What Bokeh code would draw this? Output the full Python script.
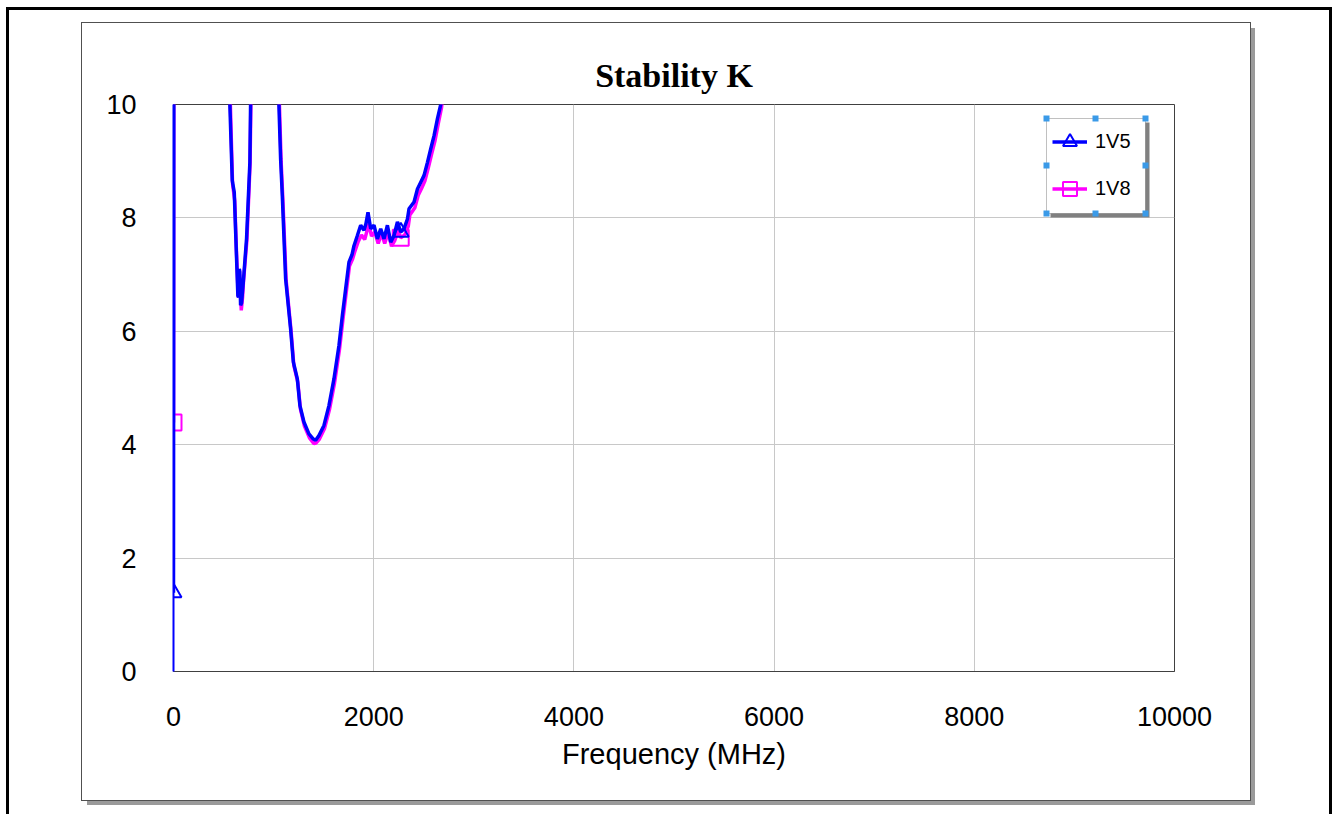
from bokeh.plotting import figure
from bokeh.layouts import column
from bokeh.models import (BoxAnnotation, Legend, LegendItem, FixedTicker, Range1d)
from bokeh.embed import file_html
from bokeh.resources import INLINE

# ---------------- data ----------------
freq_1v5 = [0, 10, 555, 563, 587, 607, 623, 643, 650, 657, 663, 670, 680, 697, 730, 763, 770, 778,
            1045, 1053, 1070, 1087, 1120, 1170, 1197, 1237, 1263, 1303, 1353, 1397, 1420, 1453, 1503,
            1553, 1603, 1653, 1687, 1720, 1753, 1783, 1803, 1837, 1870, 1903, 1923, 1943, 1970, 2003,
            2037, 2070, 2103, 2137, 2170, 2203, 2237, 2270, 2303, 2337, 2353, 2403, 2437, 2470, 2503,
            2537, 2570, 2603, 2637, 2670, 2700]
k_1v5 = [1.39, 30.0, 10.6, 10.0, 8.66, 8.45, 7.64, 6.63, 6.60, 7.10, 7.05, 6.46, 6.50, 6.86, 7.64, 8.98, 10.0, 10.6,
         10.6, 10.0, 9.04, 8.39, 6.93, 6.04, 5.46, 5.16, 4.69, 4.40, 4.19, 4.10, 4.08, 4.16, 4.34,
         4.69, 5.16, 5.75, 6.28, 6.75, 7.22, 7.35, 7.51, 7.69, 7.87, 7.78, 7.90, 8.10, 7.81, 7.87,
         7.63, 7.81, 7.63, 7.87, 7.57, 7.69, 7.93, 7.75, 7.81, 7.98, 8.16, 8.28, 8.51, 8.63, 8.75,
         8.98, 9.22, 9.45, 9.75, 10.0, 10.4]

freq_1v8 = [0, 10, 560, 568, 590, 612, 627, 647, 660, 677, 690, 700, 733, 765, 773, 781,
            1050, 1058, 1075, 1092, 1125, 1175, 1202, 1242, 1268, 1308, 1358, 1403, 1425, 1458, 1508,
            1558, 1608, 1658, 1692, 1725, 1758, 1790, 1810, 1845, 1878, 1910, 1930, 1950, 1978, 2010,
            2045, 2078, 2110, 2145, 2178, 2210, 2245, 2270, 2310, 2345, 2361, 2411, 2445, 2478, 2511,
            2545, 2578, 2611, 2645, 2678, 2705]
k_1v8 = [4.39, 30.0, 10.6, 10.0, 8.60, 8.30, 7.50, 6.60, 7.00, 6.37, 6.60, 6.90, 7.60, 8.95, 10.0, 10.6,
         10.6, 10.0, 9.00, 8.35, 6.90, 6.00, 5.40, 5.10, 4.63, 4.33, 4.12, 4.02, 4.03, 4.10, 4.28,
         4.62, 5.08, 5.68, 6.20, 6.68, 7.15, 7.28, 7.40, 7.58, 7.70, 7.62, 7.75, 7.90, 7.68, 7.75,
         7.55, 7.72, 7.55, 7.75, 7.50, 7.60, 7.78, 7.65, 7.70, 7.85, 8.05, 8.18, 8.40, 8.52, 8.65,
         8.88, 9.12, 9.35, 9.66, 9.95, 10.4]

marker_freq = [0, 2270]
marker_1v5 = [1.39, 7.75]
marker_1v8 = [4.39, 7.65]

x_ticks = [0, 2000, 4000, 6000, 8000, 10000]
y_ticks = [0, 2, 4, 6, 8, 10]

series_names = ["1V5", "1V8"]

BLUE = "#0000ff"
PINK = "#ff00ff"

# ---------------- figure (this is the grey-bordered panel) ----------------
PX, PY = 82, 23          # page position of the panel
W, H = 1168, 777
p = figure(width=W, height=H, output_backend="svg", toolbar_location=None,
           x_range=Range1d(0, 10000), y_range=Range1d(0, 10),
           min_border_left=91, min_border_right=76, min_border_top=81, min_border_bottom=129,
           title="Stability K", margin=(13, 0, 0, 73),
           styles={"outline": "1px solid #505050", "box-shadow": "5px 5px 0px #9a9a9a"})
p.background_fill_color = "white"
p.border_fill_color = "white"
p.outline_line_color = "#404040"
p.outline_line_width = 1

p.title.align = "center"
p.title.text_font = "Liberation Serif"
p.title.text_font_size = "34px"
p.title.text_font_style = "bold"
p.title.text_color = "black"
p.title.standoff = 21

for ax in (p.xaxis[0], p.yaxis[0]):
    ax.axis_line_color = "#404040"
    ax.major_tick_line_color = None
    ax.minor_tick_line_color = None
    ax.major_label_text_font = "Liberation Sans"
    ax.major_label_text_font_size = "27px"
    ax.major_label_text_color = "black"
    ax.axis_label_text_font = "Liberation Sans"
    ax.axis_label_text_font_style = "normal"
    ax.axis_label_text_font_size = "29px"
    ax.axis_label_text_color = "black"

p.yaxis.axis_line_color = BLUE
p.yaxis.axis_line_width = 2
p.xaxis.ticker = FixedTicker(ticks=x_ticks)
p.yaxis.ticker = FixedTicker(ticks=y_ticks)
p.xaxis.major_label_standoff = 29
p.yaxis.major_label_standoff = 31
p.xaxis.axis_label = "Frequency (MHz)"
p.xaxis.axis_label_standoff = 9

p.grid.grid_line_color = "#c8c8c8"
p.grid.grid_line_width = 1

# ---------------- legend box decorations (canvas units) ----------------
def cbox(l, t, r, b, **kw):
    return BoxAnnotation(left=l - PX, right=r - PX, top=t - PY, bottom=b - PY,
                         left_units="canvas", right_units="canvas",
                         top_units="canvas", bottom_units="canvas", **kw)

p.add_layout(cbox(1050, 122, 1149, 217, fill_color="#808080", fill_alpha=1, line_color=None,
                  level="underlay"))
p.add_layout(cbox(1046, 118, 1145, 213, fill_color="white", fill_alpha=1, line_color="#303030",
                  line_width=1, level="underlay"))

# ---------------- series ----------------
r8 = p.line(freq_1v8, k_1v8, line_color=PINK, line_width=3.5)
m8 = p.scatter(marker_freq, marker_1v8, marker="square", size=16, line_color=PINK,
               line_width=2, fill_alpha=0)
r5 = p.line(freq_1v5, k_1v5, line_color=BLUE, line_width=3.5)
m5 = p.scatter(marker_freq, marker_1v5, marker="triangle", size=16, line_color=BLUE,
               line_width=2, fill_alpha=0)

legend = Legend(items=[LegendItem(label=series_names[0], renderers=[r5, m5]),
                       LegendItem(label=series_names[1], renderers=[r8, m8])],
                location=(879, 465), orientation="vertical",
                label_text_font="Liberation Sans", label_text_font_size="20px",
                label_text_color="black", glyph_width=35, glyph_height=35,
                label_standoff=8, spacing=12, padding=4, margin=0,
                background_fill_alpha=0, border_line_color=None)
p.add_layout(legend)

# selection handles around the legend (canvas units)
for (hx, hy) in [(1046, 118), (1145, 118), (1046, 213), (1145, 213),
                 (1095, 118), (1046, 165), (1145, 165), (1095, 213)]:
    p.add_layout(cbox(hx - 3, hy - 3, hx + 3, hy + 3, fill_color="#3a9ae8", fill_alpha=1,
                      line_color=None, level="overlay"))

# outer page frame (black border)
root = column(p, width=1320, height=804, margin=(10, 0, 0, 9),
              styles={"outline": "3px solid black", "background": "white"})

open("out.html", "w").write(file_html(root, INLINE))
